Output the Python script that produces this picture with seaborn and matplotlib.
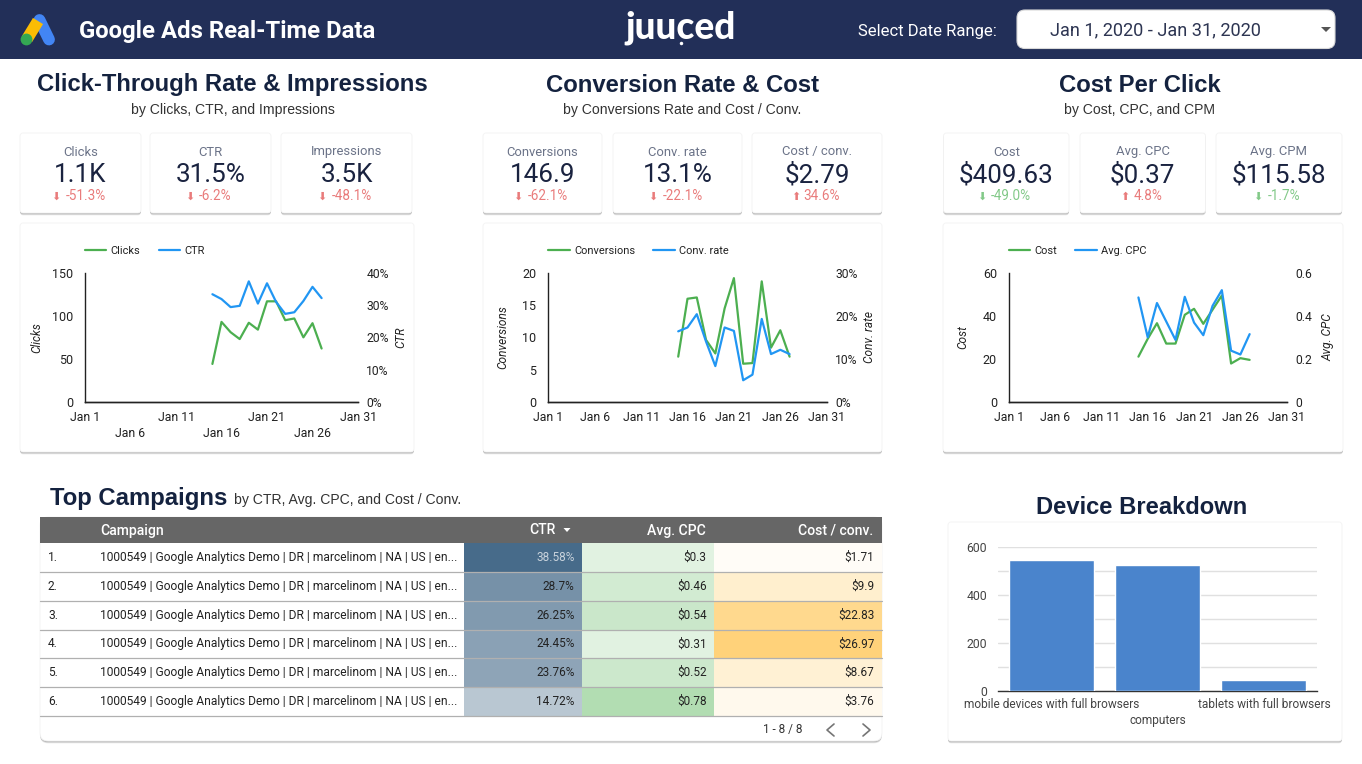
import numpy as np
import matplotlib
matplotlib.use('Agg')
import matplotlib.pyplot as plt
import seaborn as sns
from matplotlib.colors import LinearSegmentedColormap
from matplotlib.patches import FancyBboxPatch, Rectangle, Polygon
from matplotlib.ticker import FixedLocator, FuncFormatter

sns.set_theme(style="white")
plt.rcParams['font.family'] = ['Roboto', 'DejaVu Sans']

W, H = 1362, 764
ARIAL = 'Liberation Sans'
NAVY = '#222f58'
DARK = '#14223f'
GREEN = '#4caf50'
BLUE = '#2196f3'

# ===============================
# Data
# ===============================
days = [15, 16, 17, 18, 19, 20, 21, 22, 23, 24, 25, 26, 27]
clicks = [44, 93, 81, 73, 92, 84, 117, 117, 95, 97, 75, 91.5, 62]
ctr_daily = [33.4, 31.9, 29.4, 29.8, 37.4, 30.5, 36.8, 31, 27.3, 27.8, 31.3, 35.7, 32.2]
conversions = [7, 16, 16.2, 9.6, 7.5, 14.5, 19.2, 5.9, 6, 18.7, 8.4, 11.1, 7]
conv_rate = [16.4, 17.3, 20.4, 14, 8.3, 17.3, 16.5, 5, 6.3, 19.3, 11.1, 12.1, 11.1]
cost = [21, 29.3, 36.6, 27.1, 27.1, 40.5, 43.3, 36.3, 42.9, 49.5, 17.8, 20.3, 19.5]
avg_cpc = [0.486, 0.30, 0.46, 0.374, 0.288, 0.489, 0.369, 0.31, 0.447, 0.52, 0.238, 0.22, 0.315]

tick_days = [1, 6, 11, 16, 21, 26, 31]

campaign = '1000549 | Google Analytics Demo | DR | marcelinom | NA | US | en...'
table_ctr = [38.58, 28.7, 26.25, 24.45, 23.76, 14.72]
table_cpc = [0.3, 0.46, 0.54, 0.31, 0.52, 0.78]
table_cost = [1.71, 9.9, 22.83, 26.97, 8.67, 3.76]
ctr_text = ['38.58%', '28.7%', '26.25%', '24.45%', '23.76%', '14.72%']
cpc_text = ['$0.3', '$0.46', '$0.54', '$0.31', '$0.52', '$0.78']
cost_text = ['$1.71', '$9.9', '$22.83', '$26.97', '$8.67', '$3.76']

devices = ['mobile devices with full browsers', '\ncomputers', 'tablets with full browsers']
device_values = [545, 524, 43]

fig = plt.figure(figsize=(W / 100, H / 100), dpi=100, facecolor='white')


def px_axes(x0, y0, x1, y1, z=2):
    ax = fig.add_axes([x0 / W, 1 - y1 / H, (x1 - x0) / W, (y1 - y0) / H], zorder=z)
    ax.patch.set_alpha(0)
    return ax


bg = px_axes(0, 0, W, H, 0)
bg.set_xlim(0, W)
bg.set_ylim(H, 0)
bg.axis('off')
fg = px_axes(0, 0, W, H, 5)
fg.set_xlim(0, W)
fg.set_ylim(H, 0)
fg.axis('off')


def label(x, y, s, px, color='#333333', ha='center', family=None, weight='normal', va='center'):
    kw = {'family': family} if family else {}
    fg.text(x, y, s, fontsize=px * 0.72, color=color, ha=ha, va=va, fontweight=weight, **kw)


def card(x0, y0, x1, y1, r=3):
    for off, col, a in [(2.2, '#c8c8c8', 0.6), (1.2, '#a8a8a8', 0.8)]:
        bg.add_patch(FancyBboxPatch((x0, y0 + off), x1 - x0, y1 - y0, boxstyle=f'round,pad=0,rounding_size={r}',
                                    fc=col, ec='none', alpha=a))
    bg.add_patch(FancyBboxPatch((x0, y0), x1 - x0, y1 - y0, boxstyle=f'round,pad=0,rounding_size={r}',
                                fc='white', ec='#f3f3f3', lw=0.6))


# ===============================
# Header bar
# ===============================
bg.add_patch(Rectangle((0, 0), W, 58.5, fc=NAVY, ec='none'))
bg.plot([39.5, 49], [20, 39.5], color='#4285f4', lw=8.5, solid_capstyle='round')
bg.plot([38, 27], [21, 39], color='#fbbc04', lw=8.5, solid_capstyle='butt')
bg.plot([26], [39], 'o', color='#34a853', ms=8.5, mew=0)
label(79, 31.5, 'Google Ads Real-Time Data', 23.9, 'white', 'left', weight='bold')
label(681, 28, 'juuced', 37, 'white', family='Lato', weight='black')
fg.plot([680.5], [43], 'o', color='white', ms=2.5, mew=0)
label(927.5, 31.5, 'Select Date Range:', 16.6, 'white')
bg.add_patch(FancyBboxPatch((1017, 10), 318, 38.5, boxstyle='round,pad=0,rounding_size=8',
                            fc='white', ec='#d9d9d9', lw=0.8))
label(1155.5, 30.5, 'Jan 1, 2020 - Jan 31, 2020', 18.2, '#2d3552')
fg.add_patch(Polygon([[1321, 27], [1331, 27], [1326, 32]], fc='#555555', ec='none'))

# ===============================
# Section titles
# ===============================
for cx, title, sub in [(232.5, 'Click-Through Rate & Impressions', 'by Clicks, CTR, and Impressions'),
                       (682.5, 'Conversion Rate & Cost', 'by Conversions Rate and Cost / Conv.'),
                       (1140, 'Cost Per Click', 'by Cost, CPC, and CPM')]:
    label(cx, 91.5, title, 23.9, DARK, family=ARIAL, weight='bold', va='baseline')
    label(cx, 114, sub, 14.05, '#333333', family=ARIAL, va='baseline')

# ===============================
# KPI cards
# ===============================
RED_T = '#e97b7b'
GRN_T = '#82c988'
kpis = [(20, 141, 'Clicks', '1.1K', '⬇', '-51.3%', RED_T),
        (150, 271, 'CTR', '31.5%', '⬇', '-6.2%', RED_T),
        (281, 412, 'Impressions', '3.5K', '⬇', '-48.1%', RED_T),
        (483, 602, 'Conversions', '146.9', '⬇', '-62.1%', RED_T),
        (613, 742, 'Conv. rate', '13.1%', '⬇', '-22.1%', RED_T),
        (752, 882, 'Cost / conv.', '$2.79', '⬆', '34.6%', RED_T),
        (943.5, 1069, 'Cost', '$409.63', '⬇', '-49.0%', GRN_T),
        (1080, 1205.5, 'Avg. CPC', '$0.37', '⬆', '4.8%', RED_T),
        (1216, 1342, 'Avg. CPM', '$115.58', '⬇', '-1.7%', GRN_T)]
for x0, x1, name, value, arrow, delta, col in kpis:
    card(x0, 133, x1, 213)
    cx = (x0 + x1) / 2
    label(cx, 155.5, name, 13, '#6b7388', va='baseline')
    label(cx, 182.5, value, 26, '#1a2340', va='baseline')
    label(cx + 5, 200.5, delta, 13.5, col, va='baseline')
    w = len(delta) * 6.8
    fg.text(cx + 5 - w / 2 - 9, 196.5, arrow, fontsize=8, color=col, ha='center', va='center', family='DejaVu Sans')


# ===============================
# Line charts
# ===============================
def line_panel(box, frame, left, right, lname, rname, lticks, rticks, rfmt, lmax, rmax,
               lab_l, lab_r, stagger=False):
    card(*frame)
    x0, y0, x1, y1 = box
    ax = px_axes(x0, y0, x1, y1)
    ax2 = ax.twinx()
    ax2.patch.set_alpha(0)
    sns.lineplot(x=days, y=left, ax=ax, color=GREEN, lw=1.6, label=lname, legend=False, errorbar=None)
    sns.lineplot(x=days, y=right, ax=ax2, color=BLUE, lw=1.6, label=rname, legend=False, errorbar=None)
    ax.set_xlim(1, 31)
    ax.set_ylim(0, lmax)
    ax2.set_ylim(0, rmax)
    ax.set_xticks(tick_days)
    if stagger:
        ax.set_xticklabels([f'Jan {d}' if i % 2 == 0 else f'\nJan {d}' for i, d in enumerate(tick_days)],
                           linespacing=1.3)
    else:
        ax.set_xticklabels([f'Jan {d}' for d in tick_days])
    ax.set_yticks(lticks)
    ax2.set_yticks(rticks)
    ax2.yaxis.set_major_formatter(FuncFormatter(rfmt))
    ax.tick_params(axis='y', length=0, pad=8.5, labelsize=9, labelcolor='#222222')
    ax.tick_params(axis='x', length=0, pad=6.5, labelsize=8.8, labelcolor='#222222')
    ax2.tick_params(axis='y', length=0, pad=6, labelsize=8.7, labelcolor='#222222')
    for a in (ax, ax2):
        for s in ('top', 'right'):
            a.spines[s].set_visible(False)
        a.spines['left'].set_color('#222222')
        a.spines['bottom'].set_color('#222222')
        a.spines['left'].set_linewidth(1)
        a.spines['bottom'].set_linewidth(1)
    ax2.spines['left'].set_visible(False)
    ax.set_xlabel('')
    ax.set_ylabel(lname, fontsize=8.6, style='italic', color='#222222', va='center')
    ax2.set_ylabel(rname, fontsize=8.6, style='italic', color='#222222', rotation=90, va='center')
    ax.yaxis.set_label_coords((lab_l - x0) / (x1 - x0), 0.5)
    ax2.yaxis.set_label_coords((lab_r - x0) / (x1 - x0), 0.5)
    handles = ax.get_lines() + ax2.get_lines()
    leg = fg.legend(handles, [lname, rname], ncol=2, frameon=False, loc='center left', fontsize=7.9,
                    bbox_to_anchor=(x0, 250.7), bbox_transform=fg.transData, borderpad=0, borderaxespad=0,
                    handlelength=1.95, handletextpad=0.4, columnspacing=1.65)
    for txt in leg.get_texts():
        txt.set_color('#222222')
    fg.add_artist(leg)
    fg.legend_ = None


line_panel((85, 273, 358, 401.7), (20, 223, 414, 452), clicks, ctr_daily, 'Clicks', 'CTR',
           [0, 50, 100, 150], [0, 10, 20, 30, 40], lambda v, p: f'{v:.0f}%', 150, 40, 37, 401, stagger=True)
line_panel((548.3, 273, 826.7, 401.7), (483, 223, 882, 452), conversions, conv_rate, 'Conversions', 'Conv. rate',
           [0, 5, 10, 15, 20], [0, 10, 20, 30], lambda v, p: f'{v:.0f}%', 20, 30, 503, 869)
line_panel((1008.7, 273, 1286.7, 401.7), (943, 223, 1343, 452), cost, avg_cpc, 'Cost', 'Avg. CPC',
           [0, 20, 40, 60], [0, 0.2, 0.4, 0.6], lambda v, p: '0' if v == 0 else f'{v:.1f}', 60, 0.6, 963, 1328)

# ===============================
# Table
# ===============================
label(50, 505, 'Top Campaigns', 23.9, DARK, 'left', family=ARIAL, weight='bold', va='baseline')
label(234, 504, 'by CTR, Avg. CPC, and Cost / Conv.', 14.05, '#333333', 'left', family=ARIAL, va='baseline')
card(40, 517, 882, 741, r=8)
bg.add_patch(Rectangle((40, 517), 842, 26, fc='#666666', ec='none'))
label(100, 530.5, 'Campaign', 14, 'white', 'left', weight='medium')
label(555.5, 530.5, 'CTR', 14, 'white', 'right', weight='medium')
fg.add_patch(Polygon([[563.5, 528], [570.5, 528], [567, 532]], fc='white', ec='none'))
label(706, 530.5, 'Avg. CPC', 14, 'white', 'right', weight='medium')
label(873.5, 530.5, 'Cost / conv.', 14, 'white', 'right', weight='medium')

ROW_TOP, ROW_BOT = 543, 716
row_h = (ROW_BOT - ROW_TOP) / 6


def heat_col(x0, x1, values, texts, top_color):
    ax = px_axes(x0, ROW_TOP, x1, ROW_BOT)
    cmap = LinearSegmentedColormap.from_list('c', ['#ffffff', top_color])
    sns.heatmap(np.array(values).reshape(-1, 1), ax=ax, cmap=cmap, vmin=0, vmax=max(values), cbar=False,
                xticklabels=False, yticklabels=False)
    ax.set_xlabel('')
    ax.set_ylabel('')
    for i, s in enumerate(texts):
        col = '#c9d3dc' if s == '38.58%' else '#222222'
        ax.text(1 - 7.5 / (x1 - x0), i + 0.5, s, fontsize=8.5, ha='right', va='center', color=col)


heat_col(463.5, 582, table_ctr, ctr_text, '#476b8a')
heat_col(582, 714, table_cpc, cpc_text, '#b2ddb2')
heat_col(714, 882, table_cost, cost_text, '#ffd27a')

for i in range(6):
    ymid = ROW_TOP + row_h * (i + 0.5)
    label(48, ymid, f'{i + 1}.', 12.05, '#222222', 'left')
    label(100, ymid, campaign, 12.05, '#222222', 'left')
    fg.plot([40, 882], [ROW_TOP + row_h * (i + 1)] * 2, color='#b0b0b0', lw=0.9)

label(783, 730, '1 - 8 / 8', 11.8, '#333333')
fg.plot([834, 827, 834], [724, 730, 736], color='#757575', lw=1.2)
fg.plot([863, 870, 863], [724, 730, 736], color='#757575', lw=1.2)

# ===============================
# Device breakdown
# ===============================
label(1142, 514.5, 'Device Breakdown', 23.8, DARK, family=ARIAL, weight='bold', va='baseline')
card(948, 522, 1342, 741)
bar_ax = px_axes(998.3, 547.3, 1317, 690.7)
sns.barplot(x=devices, y=device_values, ax=bar_ax, color='#4a84cc', saturation=1, width=0.8, zorder=3)
bar_ax.set_xlim(-0.5, 2.5)
bar_ax.set_ylim(0, 600)
bar_ax.yaxis.set_major_locator(FixedLocator([0, 200, 400, 600]))
bar_ax.yaxis.set_minor_locator(FixedLocator([100, 300, 500]))
bar_ax.grid(True, axis='y', which='both', color='#e0e0e0', lw=1)
bar_ax.set_axisbelow(True)
bar_ax.tick_params(axis='y', length=0, pad=8, labelsize=8.8, labelcolor='#444444')
bar_ax.tick_params(axis='y', which='minor', length=0)
bar_ax.tick_params(axis='x', length=0, pad=5, labelsize=8.6, labelcolor='#444444')
for t in bar_ax.get_xticklabels():
    t.set_linespacing(1.3)
for s in ('top', 'right', 'left'):
    bar_ax.spines[s].set_visible(False)
bar_ax.spines['bottom'].set_color('#333333')
bar_ax.spines['bottom'].set_linewidth(1)

fig.savefig('out.png', dpi=100)
